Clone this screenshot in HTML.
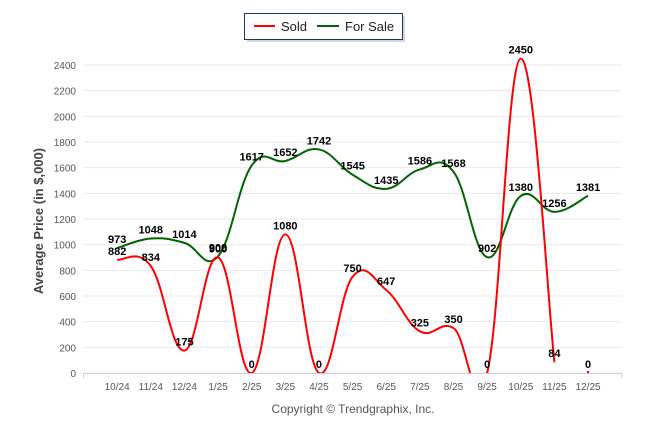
<!DOCTYPE html>
<html><head><meta charset="utf-8"><style>
html,body{margin:0;padding:0;background:#fff;}
body{width:646px;height:434px;overflow:hidden;font-family:"Liberation Sans",sans-serif;}
svg text{font-family:"Liberation Sans",sans-serif;}
</style></head><body>
<svg id="chart" width="646" height="434" viewBox="0 0 646 434" xmlns="http://www.w3.org/2000/svg">
<defs><clipPath id="clip"><rect x="83" y="40" width="540" height="333"/></clipPath></defs>
<g id="grid"></g>
<g id="axes"></g>
<g id="series" clip-path="url(#clip)"></g>
<g id="labels"></g>
<g>
<rect x="247" y="16" width="158" height="26" fill="#bbb" opacity="0.6"/>
<rect x="244.5" y="13.5" width="158" height="26" fill="#fff" stroke="#1f3864" stroke-width="1"/>
<g>
<line x1="254" y1="26" x2="275" y2="26" stroke="#ff0000" stroke-width="2"/>
<text x="281" y="31" font-size="13" fill="#222">Sold</text></g>
<g>
<line x1="317" y1="26" x2="339" y2="26" stroke="#006400" stroke-width="2"/>
<text x="345" y="31" font-size="13" fill="#222">For Sale</text></g>
</g>
<text transform="translate(43,221) rotate(-90)" text-anchor="middle" font-size="13" font-weight="bold" fill="#444">Average Price (in $,000)</text>
<text x="353" y="413" text-anchor="middle" font-size="12" fill="#555">Copyright © Trendgraphix, Inc.</text>
</svg>
<script>
const categories=["10/24","11/24","12/24","1/25","2/25","3/25","4/25","5/25","6/25","7/25","8/25","9/25","10/25","11/25","12/25"];
const soldValues=[882,834,175,900,0,1080,0,750,647,325,350,0,2450,84,0];
const forSaleValues=[973,1048,1014,909,1617,1652,1742,1545,1435,1586,1568,902,1380,1256,1381];
const yTicks=[0,200,400,600,800,1000,1200,1400,1600,1800,2000,2200,2400];
const NS="http://www.w3.org/2000/svg";
const x0=83.5,x1=621.7,yBase=373,yTop=65;
function xs(i){return x0+(i+1)*(x1-x0)/16;}
function ys(v){return yBase-(v/2400)*(yBase-yTop);}
function mk(tag,attrs,parent){const e=document.createElementNS(NS,tag);for(const k in attrs)e.setAttribute(k,attrs[k]);parent.appendChild(e);return e;}
const grid=document.getElementById('grid'),axes=document.getElementById('axes'),ser=document.getElementById('series'),lab=document.getElementById('labels');
yTicks.forEach(v=>{
 const l=mk('line',{x1:x0,x2:x1,y1:ys(v),y2:ys(v),stroke:'#e8e8e8','stroke-width':1},grid);
 
 
 const t=mk('text',{x:76,y:ys(v)+4,'text-anchor':'end','font-size':10,fill:'#555'},axes);
 t.textContent=v;
 
 
});
const ax=mk('line',{x1:x0,x2:x1,y1:yBase+0.5,y2:yBase+0.5,stroke:'#ccd',"stroke-width":1},axes);


[-1,15].forEach(i=>{mk('line',{x1:xs(i),x2:xs(i),y1:yBase,y2:yBase+5,stroke:'#ccd'},axes);});
categories.forEach((c,i)=>{
 const t=mk('text',{x:xs(i),y:390,'text-anchor':'middle','font-size':10,fill:'#555'},axes);
 t.textContent=c;
 
 
});
function path(vals){
 const p=vals.map((v,i)=>[xs(i),ys(v)]);
 let d='M'+p[0][0]+','+p[0][1];
 for(let i=0;i<p.length-1;i++){
  const a=p[Math.max(0,i-1)],b=p[i],c=p[i+1],e=p[Math.min(p.length-1,i+2)];
  const k=1/5;
  d+=' C'+(b[0]+(c[0]-a[0])*k)+','+(b[1]+(c[1]-a[1])*k)+' '+(c[0]-(e[0]-b[0])*k)+','+(c[1]-(e[1]-b[1])*k)+' '+c[0]+','+c[1];
 }
 return d;
}
const fs=mk('path',{d:path(forSaleValues),fill:'none',stroke:'#006400','stroke-width':2},ser);


const sd=mk('path',{d:path(soldValues.slice(0,soldValues.length-1)),fill:'none',stroke:'#ff0000','stroke-width':2},ser);


const dot=mk('circle',{cx:xs(soldValues.length-1),cy:ys(soldValues[soldValues.length-1])-1,r:1.2,fill:'#ff0000'},lab);


function labels(vals,name){
 vals.forEach((v,i)=>{
  const t=mk('text',{x:xs(i),y:ys(v)-5,'text-anchor':'middle','font-size':11,'font-weight':'bold',fill:'#000'},lab);
  t.textContent=v;
  
  
 });
}
labels(soldValues,'sold');
labels(forSaleValues,'for-sale');
</script>
</body></html>
